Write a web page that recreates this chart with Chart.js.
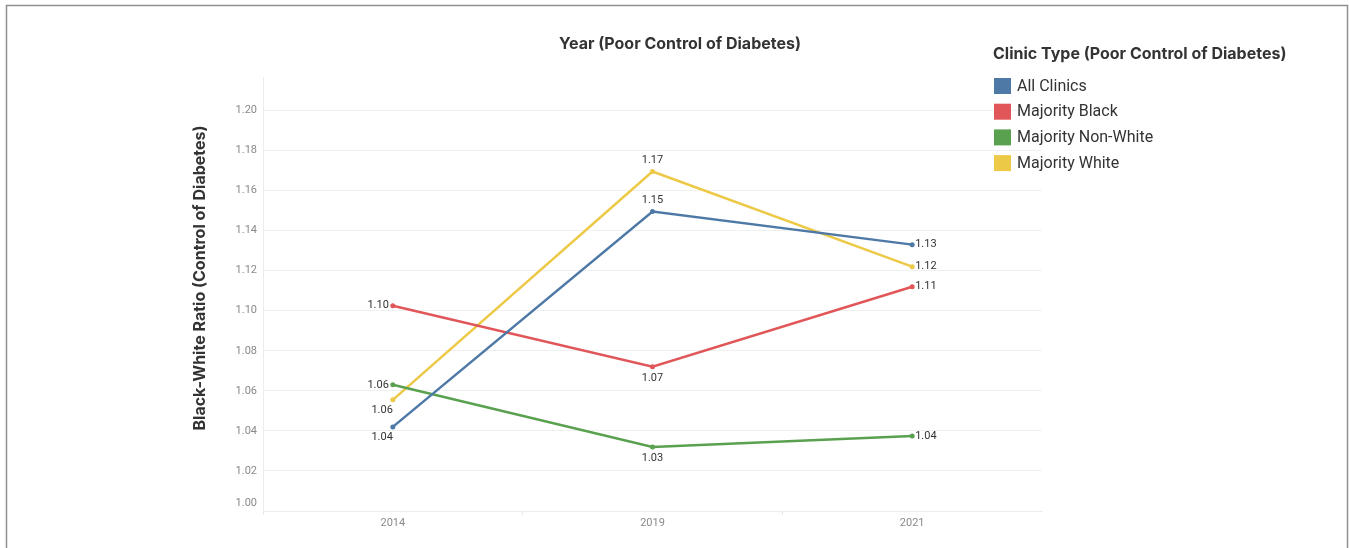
<!DOCTYPE html>
<html>
<head>
<meta charset="utf-8">
<title>Black-White Ratio (Control of Diabetes)</title>
<script src="https://cdn.jsdelivr.net/npm/chart.js@4"></script>
<style>
  html, body { margin: 0; padding: 0; background: #ffffff; }
  #wrap { position: relative; width: 1349px; height: 548px; }
</style>
</head>
<body>
<div id="wrap"><canvas id="chart" width="1349" height="548"></canvas></div>
<script>
// Years on the x axis
const years = ['2014', '2019', '2021'];

// Black-white ratio per clinic type
const allClinics       = [1.042, 1.1495, 1.133];
const majorityBlack    = [1.1025, 1.072, 1.112];
const majorityNonWhite = [1.063, 1.032, 1.0375];
const majorityWhite    = [1.0555, 1.1695, 1.122];

const seriesNames = ['All Clinics', 'Majority Black', 'Majority Non-White', 'Majority White'];

// Y tick values
const yTicks = [1.00, 1.02, 1.04, 1.06, 1.08, 1.10, 1.12, 1.14, 1.16, 1.18, 1.20];

const colors = ['#4e79a7', '#e15759', '#59a14f', '#edc948'];

// where each value label sits around its point, per series and year
const labelPlacement = [
  ['belowLeft', 'above', 'right'],
  ['left', 'below', 'right'],
  ['left', 'below', 'right'],
  ['belowLeft', 'above', 'right']
];

const FONT = 'Roboto, "Liberation Sans", sans-serif';
const BOLD_FONT = 'Inter, Roboto, "Liberation Sans", sans-serif';

const decorations = {
  id: 'decorations',
  afterDraw(chart) {
    const ctx = chart.ctx;
    const yScale = chart.scales.y;
    const area = chart.chartArea;
    ctx.save();

    // frame around the sheet
    ctx.strokeStyle = '#8f8f8f';
    ctx.lineWidth = 1.5;
    ctx.beginPath();
    ctx.moveTo(6.5, 560);
    ctx.lineTo(6.5, 5.5);
    ctx.lineTo(1347.5, 5.5);
    ctx.lineTo(1347.5, 560);
    ctx.stroke();

    // y tick labels
    ctx.fillStyle = '#8a8a8a';
    ctx.font = '11px ' + FONT;
    ctx.textAlign = 'right';
    ctx.textBaseline = 'middle';
    yTicks.forEach(v => {
      let py = yScale.getPixelForValue(v);
      if (py > area.bottom - 4) py = area.bottom - 8;
      ctx.fillText(v.toFixed(2), 257, py);
    });

    // axis titles
    ctx.fillStyle = '#333333';
    ctx.font = 'bold 16px ' + BOLD_FONT;
    ctx.textAlign = 'center';
    ctx.fillText('Year (Poor Control of Diabetes)', 680, 44);

    ctx.save();
    ctx.translate(200, 278);
    ctx.rotate(-Math.PI / 2);
    ctx.fillText('Black-White Ratio (Control of Diabetes)', 0, 0);
    ctx.restore();

    // legend
    ctx.textAlign = 'left';
    ctx.fillText('Clinic Type (Poor Control of Diabetes)', 993, 54);
    ctx.font = '16px ' + FONT;
    chart.data.datasets.forEach((ds, i) => {
      const y = 78 + i * 25.7;
      ctx.fillStyle = ds.borderColor;
      ctx.fillRect(994, y, 17, 16);
      ctx.fillStyle = '#333333';
      ctx.fillText(ds.label, 1017, y + 8.5);
    });

    // value labels
    ctx.font = '11px ' + FONT;
    ctx.fillStyle = '#333333';
    chart.data.datasets.forEach((ds, i) => {
      const meta = chart.getDatasetMeta(i);
      meta.data.forEach((pt, j) => {
        const txt = ds.data[j].toFixed(2);
        const place = labelPlacement[i][j];
        let x = pt.x, y = pt.y;
        if (place === 'right') { ctx.textAlign = 'left'; x += 3; }
        else if (place === 'left') { ctx.textAlign = 'right'; x -= 4; }
        else if (place === 'above') { ctx.textAlign = 'center'; y -= 11; }
        else if (place === 'below') { ctx.textAlign = 'center'; y += 11; }
        else if (place === 'belowLeft') { ctx.textAlign = 'right'; y += 10; }
        ctx.fillText(txt, x, y);
      });
    });

    ctx.restore();
  }
};

const seriesValues = [allClinics, majorityBlack, majorityNonWhite, majorityWhite];

new Chart(document.getElementById('chart'), {
  type: 'line',
  data: {
    labels: years,
    datasets: seriesNames.map((name, i) => ({
      label: name,
      data: seriesValues[i],
      borderColor: colors[i],
      backgroundColor: colors[i],
      borderWidth: 2.5,
      pointRadius: 2.5,
      pointHoverRadius: 2.5,
      pointBorderWidth: 0,
      tension: 0,
      fill: false
    }))
  },
  options: {
    responsive: false,
    animation: false,
    events: [],
    layout: { padding: { left: 0, top: 77, right: 307, bottom: 0 } },
    plugins: {
      legend: { display: false },
      title: { display: false },
      tooltip: { enabled: false }
    },
    scales: {
      x: {
        type: 'category',
        offset: true,
        grid: {
          display: true,
          offset: true,
          drawOnChartArea: false,
          drawTicks: true,
          tickLength: 4,
          // no tick mark on the closing edge of the last category
          color: (c) => (c.tick ? '#e6e6e6' : 'rgba(0,0,0,0)')
        },
        border: { display: true, color: '#ececec', width: 1 },
        ticks: {
          color: '#8a8a8a',
          font: { family: FONT, size: 11 },
          padding: 2,
          maxRotation: 0
        },
        afterFit(scale) { scale.height = 37; }
      },
      y: {
        type: 'linear',
        min: 1.0,
        max: 1.2167,
        grid: {
          color: '#f0f0f0',
          drawTicks: false,
          lineWidth: 1
        },
        border: { display: true, color: '#ececec', width: 1 },
        ticks: {
          display: false,
          stepSize: 0.02,
          includeBounds: false
        },
        afterFit(scale) { scale.width = 263; }
      }
    }
  },
  plugins: [decorations]
});
</script>
</body>
</html>
